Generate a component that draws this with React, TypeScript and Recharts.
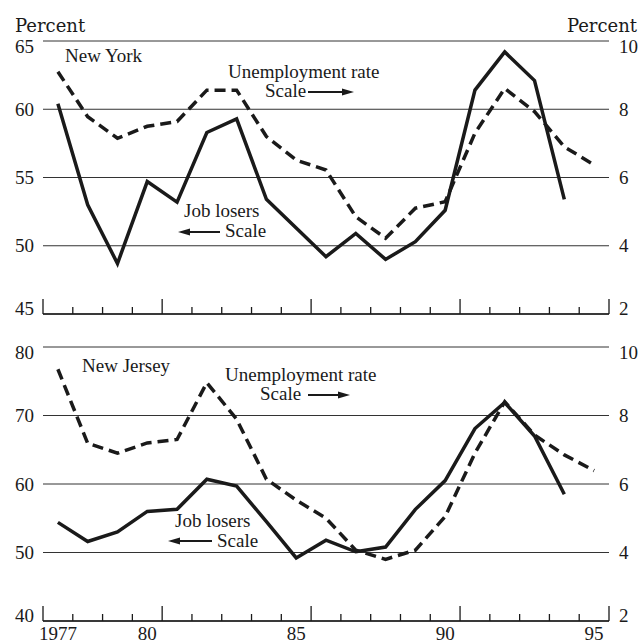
import React from 'react';
import { LineChart, Line, XAxis, YAxis, CartesianGrid } from 'recharts';

// annual data, 1977-1995
const years = [1977, 1978, 1979, 1980, 1981, 1982, 1983, 1984, 1985, 1986, 1987, 1988, 1989, 1990, 1991, 1992, 1993, 1994, 1995];

const nyJobLosers = [60.4, 53.0, 48.7, 54.7, 53.2, 58.3, 59.3, 53.4, 51.3, 49.2, 50.9, 49.0, 50.3, 52.6, 61.4, 64.2, 62.1, 53.4, null];
const nyUnemployment = [9.1, 7.78, 7.15, 7.5, 7.64, 8.56, 8.56, 7.2, 6.51, 6.22, 4.85, 4.22, 5.1, 5.29, 7.3, 8.61, 7.93, 6.9, 6.37];

const njJobLosers = [54.4, 51.6, 53.0, 56.0, 56.3, 60.7, 59.7, 54.5, 49.2, 51.8, 50.1, 50.8, 56.3, 60.5, 68.1, 71.9, 67.0, 58.5, null];
const njUnemployment = [9.35, 7.19, 6.9, 7.2, 7.3, 8.96, 7.89, 6.14, 5.53, 5.0, 4.07, 3.8, 4.07, 5.05, 6.9, 8.4, 7.43, 6.85, 6.39];

// tick marks sit on the year boundaries, labels in the middle of the year
const yearEdges = [1976.5, 1977.5, 1978.5, 1979.5, 1980.5, 1981.5, 1982.5, 1983.5, 1984.5, 1985.5, 1986.5, 1987.5, 1988.5, 1989.5, 1990.5, 1991.5, 1992.5, 1993.5, 1994.5, 1995.5];
const tallEdges = [1976.5, 1980.5, 1985.5, 1990.5, 1995.5];
const labelYears = [1977, 1980, 1985, 1990, 1995];
const labelText = ['1977', '80', '85', '90', '95'];

const nyLeftTicks = [45, 50, 55, 60, 65];
const njLeftTicks = [40, 50, 60, 70, 80];
const rightTicks = [2, 4, 6, 8, 10];

const FONT = '"Liberation Serif", "Times New Roman", serif';
const INK = '#1a1a1a';

const nyData = years.map((year, i) => ({ year, losers: nyJobLosers[i], rate: nyUnemployment[i] }));
const njData = years.map((year, i) => ({ year, losers: njJobLosers[i], rate: njUnemployment[i] }));

const YTick = (props: any) => {
  const { x, y, payload, anchor, min, max } = props;
  let shift = 0;
  if (payload.value === max) shift = 5;
  if (payload.value === min) shift = -6;
  return (
    <text x={x} y={y + shift} dy="0.35em" textAnchor={anchor} fontFamily={FONT} fontSize={19} fill={INK}>
      {payload.value}
    </text>
  );
};

const XTick = (props: any) => {
  const { x, y, payload } = props;
  const v = payload.value;
  const li = labelYears.indexOf(v);
  if (li >= 0) {
    return (
      <text x={x} y={y + 19} textAnchor="middle" fontFamily={FONT} fontSize={19} fill={INK}>
        {labelText[li]}
      </text>
    );
  }
  const len = tallEdges.includes(v) ? 15 : 7;
  return <line x1={x} x2={x} y1={y} y2={y - len} stroke={INK} strokeWidth={1.3} />;
};

const Panel = ({ data, leftTicks, showLabels, height, margin }: any) => {
  const lo = leftTicks[0];
  const hi = leftTicks[leftTicks.length - 1];
  return (
    <LineChart width={644} height={height} data={data} margin={margin}>
      <CartesianGrid yAxisId="left" horizontal vertical={false} stroke="#333" strokeWidth={1} />
      <XAxis
        dataKey="year"
        type="number"
        domain={[1976.5, 1995.5]}
        ticks={showLabels ? [...yearEdges, ...labelYears].sort((a, b) => a - b) : yearEdges}
        interval={0}
        tick={<XTick />}
        tickLine={false}
        tickSize={0}
        tickMargin={0}
        height={showLabels ? 22 : 4}
        axisLine={{ stroke: INK, strokeWidth: 1.3 }}
      />
      <YAxis
        yAxisId="left"
        orientation="left"
        domain={[lo, hi]}
        ticks={leftTicks}
        interval={0}
        width={43}
        axisLine={false}
        tickLine={false}
        tickSize={0}
        tickMargin={9}
        tick={<YTick anchor="end" min={lo} max={hi} />}
      />
      <YAxis
        yAxisId="right"
        orientation="right"
        domain={[2, 10]}
        ticks={rightTicks}
        interval={0}
        width={35}
        axisLine={false}
        tickLine={false}
        tickSize={0}
        tickMargin={10}
        tick={<YTick anchor="start" min={2} max={10} />}
      />
      <Line yAxisId="left" dataKey="losers" stroke={INK} strokeWidth={3.5} dot={false} isAnimationActive={false} />
      <Line yAxisId="right" dataKey="rate" stroke={INK} strokeWidth={3.5} strokeDasharray="11 6" dot={false} isAnimationActive={false} />
    </LineChart>
  );
};

const Arrow = ({ x1, x2, y }: { x1: number; x2: number; y: number }) => {
  // x2 is the head
  const dir = x2 > x1 ? 1 : -1;
  return (
    <g>
      <line x1={x1} x2={x2 - dir * 8} y1={y} y2={y} stroke={INK} strokeWidth={2} />
      <polygon points={`${x2},${y} ${x2 - dir * 12},${y - 3.5} ${x2 - dir * 12},${y + 3.5}`} fill={INK} />
    </g>
  );
};

const txt = { fontFamily: FONT, fontSize: 19, fill: INK } as const;
const unit = { fontFamily: '"DejaVu Serif", serif', fontSize: 18, fill: INK } as const;

export default function App() {
  return (
    <div style={{ position: 'absolute', left: 0, top: 0, width: 644, height: 643, background: '#fff', overflow: 'hidden' }}>
      <div style={{ position: 'absolute', left: 0, top: 0 }}>
        <Panel data={nyData} leftTicks={nyLeftTicks} showLabels={false} height={320} margin={{ top: 41, right: 0, bottom: 2, left: 0 }} />
      </div>
      <div style={{ position: 'absolute', left: 0, top: 320 }}>
        <Panel data={njData} leftTicks={njLeftTicks} showLabels height={323} margin={{ top: 27, right: 0, bottom: 0, left: 0 }} />
      </div>
      <svg width={644} height={643} style={{ position: 'absolute', left: 0, top: 0, pointerEvents: 'none' }}>
        <text x={15} y={32} {...unit}>Percent</text>
        <text x={637} y={32} textAnchor="end" {...unit}>Percent</text>

        <text x={65} y={62} {...txt}>New York</text>
        <text x={228} y={78} {...txt}>Unemployment rate</text>
        <text x={265} y={97} {...txt}>Scale</text>
        <Arrow x1={308} x2={354} y={92} />
        <text x={184} y={217} {...txt}>Job losers</text>
        <text x={225} y={237} {...txt}>Scale</text>
        <Arrow x1={220} x2={178} y={232} />

        <text x={82} y={372} {...txt}>New Jersey</text>
        <text x={225} y={381} {...txt}>Unemployment rate</text>
        <text x={260} y={400} {...txt}>Scale</text>
        <Arrow x1={308} x2={350} y={395} />
        <text x={175} y={527} {...txt}>Job losers</text>
        <text x={217} y={547} {...txt}>Scale</text>
        <Arrow x1={212} x2={168} y={541} />
      </svg>
    </div>
  );
}
